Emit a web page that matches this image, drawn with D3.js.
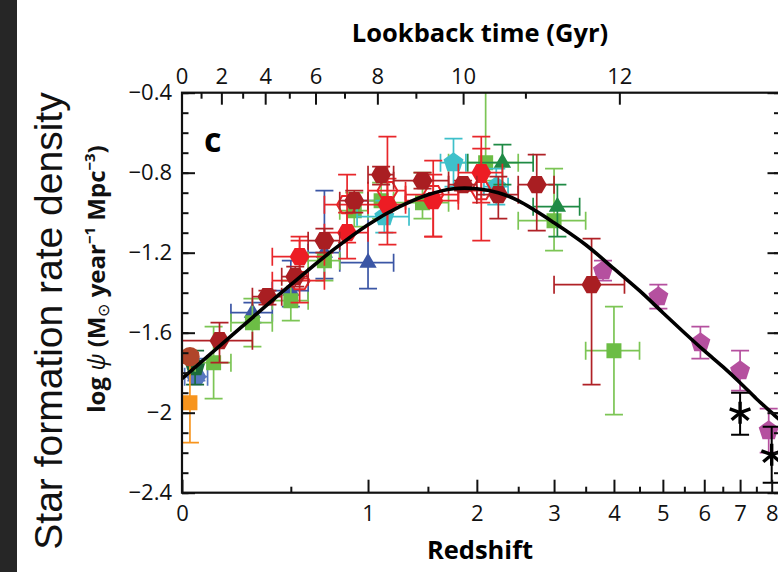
<!DOCTYPE html>
<html>
<head>
<meta charset="utf-8">
<script src="https://cdn.jsdelivr.net/npm/d3@7"></script>
<style>
  body { margin: 0; background: #fff; }
  svg { display: block; }
  .axis text { font-family: "Open Sans", sans-serif; font-size: 22px; fill: #111; }
  .axis line { stroke: #111; stroke-width: 2px; }
</style>
</head>
<body>
<div id="chart"></div>
<script>

// each row: z low, z high, log psi, error up, error down
var wyder05 = [[0.01, 0.1, -1.82, 0.09, 0.02]];
var schiminovich05 = [
  [0.2, 0.4, -1.50, 0.05, 0.05],
  [0.4, 0.6, -1.39, 0.15, 0.08],
  [0.6, 0.8, -1.20, 0.31, 0.13],
  [0.8, 1.2, -1.25, 0.31, 0.13]
];
var robotham11 = [[0.05, 0.05, -1.77, 0.08, 0.09]];
var cucciati12 = [
  [0.05, 0.2, -1.75, 0.18, 0.18],
  [0.2, 0.4, -1.55, 0.12, 0.12],
  [0.4, 0.6, -1.44, 0.10, 0.10],
  [0.6, 0.8, -1.24, 0.10, 0.10],
  [0.8, 1.0, -0.99, 0.09, 0.08],
  [1.0, 1.2, -0.94, 0.09, 0.09],
  [1.2, 1.7, -0.95, 0.15, 0.08],
  [1.7, 2.5, -0.75, 0.49, 0.09],
  [2.5, 3.5, -1.04, 0.26, 0.15],
  [3.5, 4.5, -1.69, 0.22, 0.32]
];
var dahlen07 = [
  [0.92, 1.33, -1.02, 0.08, 0.08],
  [1.62, 1.88, -0.75, 0.12, 0.12],
  [2.08, 2.37, -0.87, 0.09, 0.09]
];
var reddy09 = [
  [1.9, 2.7, -0.75, 0.09, 0.11],
  [2.7, 3.4, -0.97, 0.11, 0.15]
];
var bouwens12 = [
  [3.8, 3.8, -1.29, 0.05, 0.05],
  [4.9, 4.9, -1.42, 0.06, 0.06],
  [5.9, 5.9, -1.65, 0.08, 0.08],
  [7.0, 7.0, -1.79, 0.10, 0.10],
  [7.9, 7.9, -2.09, 0.11, 0.11]
];
var schenker13 = [
  [7.0, 7.0, -2.00, 0.10, 0.11],
  [8.0, 8.0, -2.21, 0.14, 0.14]
];
var sanders03 = [[0.03, 0.03, -1.72, 0.02, 0.03]];
var takeuchi05 = [[0.03, 0.03, -1.95, 0.20, 0.20]];
var magnelli11 = [
  [0.4, 0.7, -1.34, 0.22, 0.11],
  [0.7, 1.0, -0.96, 0.15, 0.19],
  [1.0, 1.3, -0.89, 0.27, 0.21],
  [1.3, 1.8, -0.91, 0.17, 0.21],
  [1.8, 2.3, -0.89, 0.21, 0.25]
];
var magnelli13 = [
  [0.4, 0.7, -1.22, 0.08, 0.11],
  [0.7, 1.0, -1.10, 0.10, 0.13],
  [1.0, 1.3, -0.96, 0.13, 0.20],
  [1.3, 1.8, -0.94, 0.13, 0.18],
  [1.8, 2.3, -0.80, 0.18, 0.15]
];
var gruppioni13 = [
  [0.0, 0.3, -1.64, 0.09, 0.11],
  [0.3, 0.45, -1.42, 0.03, 0.04],
  [0.45, 0.6, -1.32, 0.05, 0.05],
  [0.6, 0.8, -1.14, 0.06, 0.06],
  [0.8, 1.0, -0.94, 0.05, 0.06],
  [1.0, 1.2, -0.81, 0.04, 0.05],
  [1.2, 1.7, -0.84, 0.04, 0.04],
  [1.7, 2.0, -0.86, 0.02, 0.03],
  [2.0, 2.5, -0.91, 0.09, 0.12],
  [2.5, 3.0, -0.86, 0.15, 0.23],
  [3.0, 4.2, -1.36, 0.23, 0.50]
];

// best-fit curve
var fitZ = [0, 0.25, 0.5, 0.75, 1, 1.25, 1.5, 1.75, 2, 2.25, 2.5, 3, 3.5, 4, 4.5, 5, 5.5, 6, 6.5, 7, 7.5, 8, 8.3];
var fitLog = [-1.83, -1.57, -1.36, -1.19, -1.06, -0.97, -0.91, -0.88, -0.88, -0.90, -0.94, -1.05, -1.16, -1.28, -1.39, -1.50, -1.60, -1.69, -1.77, -1.85, -1.93, -2.00, -2.04];

// ticks
var zMajor = [0, 1, 2, 3, 4, 5, 6, 7, 8];
var zMinor = [0.5, 1.5, 2.5, 3.5, 4.5, 5.5, 6.5, 7.5];
var lookbackTicks = [0, 1, 2, 3, 4, 5, 6, 7, 8, 9, 10, 11, 12];
var yMajor = [-2.4, -2.0, -1.6, -1.2, -0.8, -0.4];
var yMinor = d3.range(-2.4, -0.39, 0.1);

// drawing order and look of every data set
var seriesList = [
  { rows: schiminovich05, shape: "triangle", fill: "#3b56a5", bar: "#3b56a5" },
  { rows: wyder05, shape: "hexagon", fill: "#5676bf", bar: "#5676bf" },
  { rows: robotham11, shape: "pentagon", fill: "#1b6b3b", bar: "#1b6b3b" },
  { rows: cucciati12, shape: "square", fill: "#6cbd45", bar: "#7cc555" },
  { rows: dahlen07, shape: "pentagon", fill: "#3ec0ca", bar: "#3ec0ca" },
  { rows: reddy09, shape: "triangle", fill: "#1f8a45", bar: "#1f8a45" },
  { rows: bouwens12, shape: "pentagon", fill: "#b5509f", bar: "#b5509f" },
  { rows: schenker13, shape: "star", fill: "#000", bar: "#000" },
  { rows: takeuchi05, shape: "square", fill: "#f7941d", bar: "#f7941d" },
  { rows: sanders03, shape: "circle", fill: "#b0452a", bar: "#e8262a" },
  { rows: magnelli11, shape: "hexagon", fill: "none", bar: "#e8262a" },
  { rows: magnelli13, shape: "hexagon", fill: "#ed1c24", bar: "#e8262a" },
  { rows: gruppioni13, shape: "hexagon", fill: "#a91e22", bar: "#b02126" }
];

var svgWidth = 778, svgHeight = 572;
var margin = { top: 92.7, left: 182 };
var plotRight = 780.5, plotBottom = 492.7;

var svg = d3.select("#chart").append("svg")
  .attr("width", svgWidth)
  .attr("height", svgHeight);

svg.append("rect").attr("x", 0).attr("y", 0).attr("width", 17).attr("height", svgHeight).attr("fill", "#262626");

// x is log(1+z)
var xScale = d3.scaleLog().domain([1, 9.3]).range([margin.left, plotRight]);
var yScale = d3.scaleLinear().domain([-2.4, -0.4]).range([plotBottom, margin.top]);
var xz = function(z) { return xScale(1 + z); };

// flat LCDM, H0 = 70, Om = 0.3
function zFromLookback(t) {
  var hubbleTime = 977.8 / 70;
  var A = 2 * hubbleTime / (3 * Math.sqrt(0.7));
  var k = Math.sqrt(0.7 / 0.3);
  var age0 = A * Math.asinh(k);
  var s = Math.sinh((age0 - t) / A) / k;
  return Math.pow(s, -2 / 3) - 1;
}

svg.append("clipPath").attr("id", "plotclip")
  .append("rect")
  .attr("x", margin.left).attr("y", margin.top)
  .attr("width", plotRight - margin.left).attr("height", plotBottom - margin.top);

var plot = svg.append("g").attr("clip-path", "url(#plotclip)");

function polygon(n, r, rot) {
  var pts = d3.range(n).map(function(i) {
    var a = rot + i * 2 * Math.PI / n;
    return [r * Math.cos(a), r * Math.sin(a)];
  });
  return "M" + pts.map(function(p) { return p.join(","); }).join("L") + "Z";
}

var shapes = {
  hexagon: polygon(6, 10, 0),
  pentagon: polygon(5, 10.5, -Math.PI / 2),
  triangle: polygon(3, 10, -Math.PI / 2),
  square: "M-7.5,-7.5H7.5V7.5H-7.5Z",
  circle: d3.symbol(d3.symbolCircle, 300)()
};

var cap = 9;

seriesList.forEach(function(s) {
  var g = plot.append("g");
  s.rows.forEach(function(r) {
    var zc = (r[0] + r[1]) / 2;
    var cx = xz(zc), cy = yScale(r[2]);
    var yTop = yScale(r[2] + r[3]), yBot = yScale(r[2] - r[4]);
    var bars = g.append("g")
      .attr("stroke", s.bar)
      .attr("stroke-width", s.shape == "star" ? 2 : 1.7)
      .attr("fill", "none");
    bars.append("line").attr("x1", cx).attr("x2", cx).attr("y1", yTop).attr("y2", yBot);
    bars.append("line").attr("x1", cx - cap).attr("x2", cx + cap).attr("y1", yTop).attr("y2", yTop);
    bars.append("line").attr("x1", cx - cap).attr("x2", cx + cap).attr("y1", yBot).attr("y2", yBot);
    if (r[1] > r[0]) {
      var xl = xz(r[0]), xr = xz(r[1]);
      bars.append("line").attr("x1", xl).attr("x2", xr).attr("y1", cy).attr("y2", cy);
      bars.append("line").attr("x1", xl).attr("x2", xl).attr("y1", cy - cap).attr("y2", cy + cap);
      bars.append("line").attr("x1", xr).attr("x2", xr).attr("y1", cy - cap).attr("y2", cy + cap);
    }
    if (s.shape == "star") {
      var star = g.append("g").attr("transform", "translate(" + cx + "," + cy + ")")
        .attr("stroke", "#000").attr("stroke-width", 3.4);
      [90, 20, -40, 160, 220, 270].forEach(function(a) {
        var rad = a * Math.PI / 180;
        star.append("line").attr("x1", 0).attr("y1", 0)
          .attr("x2", 11 * Math.cos(rad)).attr("y2", -11 * Math.sin(rad));
      });
    } else {
      g.append("path")
        .attr("d", shapes[s.shape])
        .attr("transform", "translate(" + cx + "," + cy + ")")
        .attr("fill", s.fill)
        .attr("stroke", s.fill == "none" ? s.bar : "none")
        .attr("stroke-width", 2);
    }
  });
});

// fit curve
var line = d3.line()
  .x(function(d, i) { return xz(fitZ[i]); })
  .y(function(d) { return yScale(d); })
  .curve(d3.curveCatmullRom);

plot.append("path")
  .datum(fitLog)
  .attr("d", line)
  .attr("fill", "none")
  .attr("stroke", "#000")
  .attr("stroke-width", 3.6);

// axes
var bottomMajor = d3.axisBottom(xScale)
  .tickValues(zMajor.map(function(z) { return 1 + z; }))
  .tickFormat(function(d, i) { return zMajor[i]; })
  .tickSizeInner(-13).tickSizeOuter(0).tickPadding(13);
var bottomMinor = d3.axisBottom(xScale)
  .tickValues(zMinor.map(function(z) { return 1 + z; }))
  .tickFormat("").tickSizeInner(-6).tickSizeOuter(0);

svg.append("g").attr("class", "axis").attr("transform", "translate(0," + plotBottom + ")").call(bottomMajor);
svg.append("g").attr("class", "axis").attr("transform", "translate(0," + plotBottom + ")").call(bottomMinor);

var topScale = function(t) { return xz(zFromLookback(t)); };
var topG = svg.append("g").attr("class", "axis").attr("transform", "translate(0," + margin.top + ")");
topG.selectAll("line").data(lookbackTicks).enter().append("line")
  .attr("x1", topScale).attr("x2", topScale)
  .attr("y1", 0).attr("y2", function(d) { return d % 2 == 0 ? 12 : 6; });
topG.selectAll("text").data(lookbackTicks.filter(function(d) { return d % 2 == 0; })).enter().append("text")
  .attr("x", topScale).attr("y", -8.5)
  .attr("text-anchor", "middle")
  .text(function(d) { return d; });

var fmt = function(d) { return d3.format(".1f")(d).replace("-", "\u2212").replace(".0", ""); };
var leftMajor = d3.axisLeft(yScale).tickValues(yMajor).tickFormat(fmt)
  .tickSizeInner(-13).tickSizeOuter(0).tickPadding(10);
var leftMinor = d3.axisLeft(yScale).tickValues(yMinor).tickFormat("")
  .tickSizeInner(-6.5).tickSizeOuter(0);
svg.append("g").attr("class", "axis").attr("transform", "translate(" + margin.left + ",0)").call(leftMajor);
svg.append("g").attr("class", "axis").attr("transform", "translate(" + margin.left + ",0)").call(leftMinor);

var rightMajor = d3.axisRight(yScale).tickValues(yMajor).tickFormat("").tickSizeInner(-13).tickSizeOuter(0);
var rightMinor = d3.axisRight(yScale).tickValues(yMinor).tickFormat("").tickSizeInner(-6.5).tickSizeOuter(0);
svg.append("g").attr("class", "axis").attr("transform", "translate(" + plotRight + ",0)").call(rightMajor);
svg.append("g").attr("class", "axis").attr("transform", "translate(" + plotRight + ",0)").call(rightMinor);

svg.selectAll(".axis .domain").remove();

// frame
svg.append("rect")
  .attr("x", margin.left).attr("y", margin.top)
  .attr("width", plotRight - margin.left).attr("height", plotBottom - margin.top)
  .attr("fill", "none").attr("stroke", "#111").attr("stroke-width", 2.2);

// panel letter
svg.append("text").attr("x", 204).attr("y", 152)
  .attr("font-family", "Open Sans, sans-serif").attr("font-weight", "bold").attr("font-size", "34px")
  .text("c");

// axis titles
svg.append("text").attr("x", 480).attr("y", 42)
  .attr("text-anchor", "middle")
  .attr("font-family", "Open Sans, sans-serif").attr("font-weight", "bold").attr("font-size", "25.5px")
  .text("Lookback time (Gyr)");

svg.append("text").attr("x", 480).attr("y", 559)
  .attr("text-anchor", "middle")
  .attr("font-family", "Open Sans, sans-serif").attr("font-weight", "bold").attr("font-size", "25.5px")
  .text("Redshift");

svg.append("text")
  .attr("transform", "translate(62,321) rotate(-90)")
  .attr("text-anchor", "middle")
  .attr("font-family", "Liberation Sans, Arial, sans-serif").attr("font-size", "39px")
  .attr("fill", "#111")
  .text("Star formation rate density");

var yLab = svg.append("text")
  .attr("transform", "translate(105,279) rotate(-90)")
  .attr("text-anchor", "middle")
  .attr("font-family", "Open Sans, sans-serif").attr("font-weight", "bold").attr("font-size", "24px")
  .attr("fill", "#111");
yLab.append("tspan").text("log ");
yLab.append("tspan").attr("font-style", "italic").attr("font-weight", "normal").text("\u03c8");
yLab.append("tspan").text(" (M");
yLab.append("tspan").attr("font-size", "16px").attr("font-weight", "normal").attr("dy", 4).text("\u2299");
yLab.append("tspan").attr("dy", -4).text(" year");
yLab.append("tspan").attr("font-size", "15px").attr("dy", -10).text("\u22121");
yLab.append("tspan").attr("dy", 10).text(" Mpc");
yLab.append("tspan").attr("font-size", "15px").attr("dy", -10).text("\u22123");
yLab.append("tspan").attr("dy", 10).text(")");

</script>
</body>
</html>
